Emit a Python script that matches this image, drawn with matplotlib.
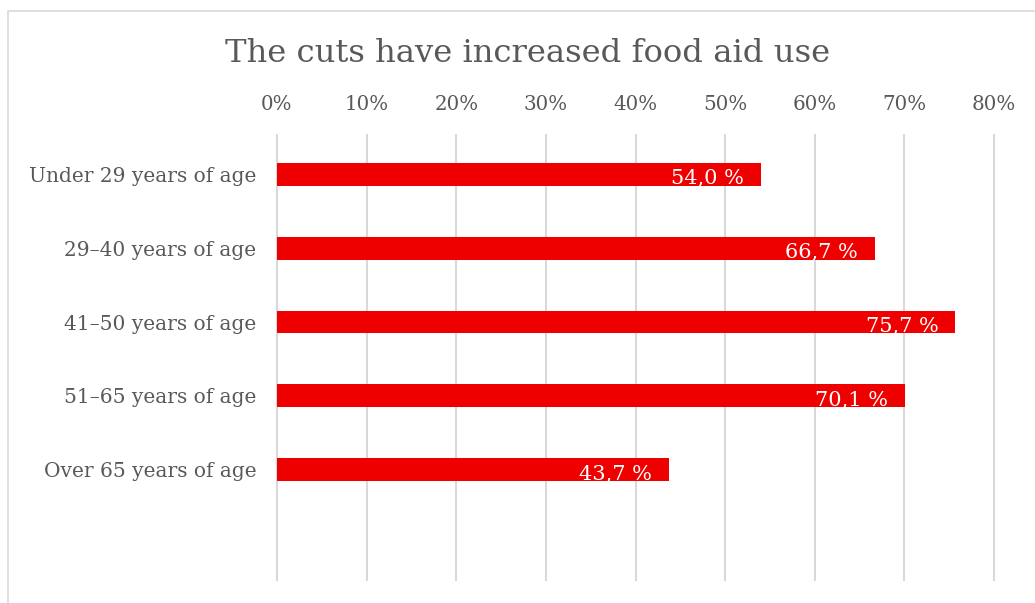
import matplotlib.pyplot as plt
from matplotlib.patches import Rectangle
from matplotlib.ticker import FuncFormatter

categories = ['Under 29 years of age', '29–40 years of age', '41–50 years of age',
              '51–65 years of age', 'Over 65 years of age']
values = [54.0, 66.7, 75.7, 70.1, 43.7]
x_ticks = [0, 10, 20, 30, 40, 50, 60, 70, 80]

BAR_RED = '#ee0000'
GRID = '#d9d9d9'
TEXT = '#595959'

plt.rcParams['font.family'] = ['DejaVu Serif']

fig = plt.figure(figsize=(10.35, 6.03), dpi=100, facecolor='white')

# light outer frame of the chart area
fig.patches.append(Rectangle((8 / 1035, -0.01), 1.1, 1 - 11 / 603 + 0.01,
                             transform=fig.transFigure, fill=False,
                             edgecolor='#d9d9d9', linewidth=1.2))

ax = fig.add_axes([277 / 1035, 1 - 580 / 603, 717 / 1035, 445 / 603])

pos = list(range(len(categories)))
ax.barh(pos, values, height=0.31, color=BAR_RED, zorder=3)

for p, v in zip(pos, values):
    ax.text(v - 1.9, p + 0.06, f'{v:.1f} %'.replace('.', ','), ha='right', va='center',
            color='white', fontsize=15, zorder=4)

ax.set_xlim(0, 80)
ax.set_ylim(5.49, -0.53)
ax.set_xticks(x_ticks)
ax.xaxis.set_major_formatter(FuncFormatter(lambda x, _: f'{int(x)}%'))
ax.xaxis.tick_top()
ax.set_yticks(pos)
ax.set_yticklabels(categories)
ax.tick_params(axis='x', length=0, pad=15, labelsize=14.3, labelcolor=TEXT)
ax.tick_params(axis='y', length=0, pad=15, labelsize=14.5, labelcolor=TEXT)

# vertical gridlines, not clipped so the 0% line shows in full
for t in x_ticks:
    ax.axvline(t, color=GRID, linewidth=1.5, zorder=0, clip_on=False)
for s in ax.spines.values():
    s.set_visible(False)

fig.text(528 / 1035, 1 - 53 / 603, 'The cuts have increased food aid use',
         ha='center', va='center', fontsize=23.2, color=TEXT)

fig.savefig('out.png', dpi=100, facecolor='white')
